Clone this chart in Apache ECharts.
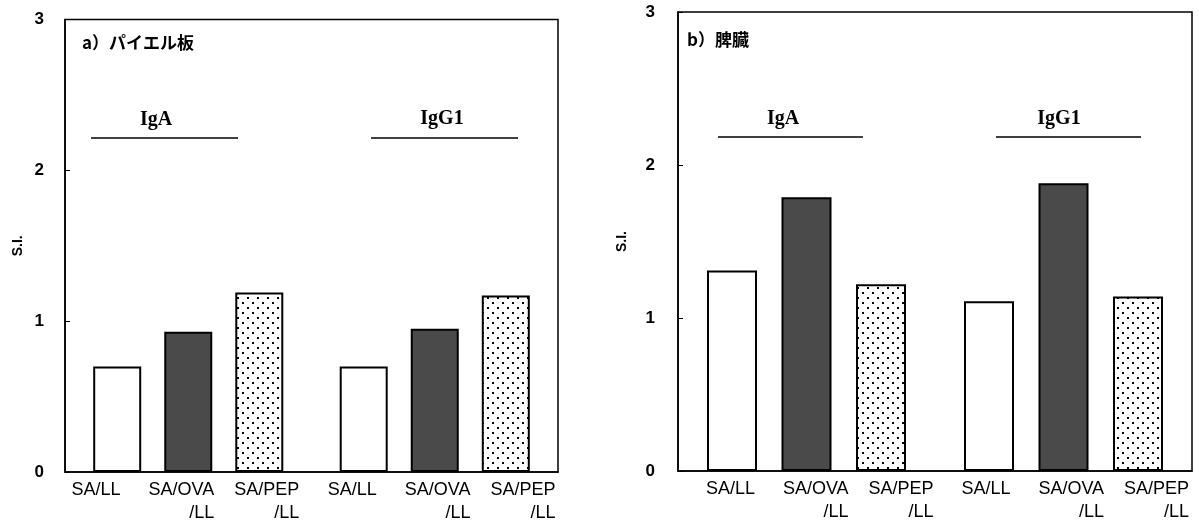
<!DOCTYPE html>
<html>
<head>
<meta charset="utf-8">
<script src="https://cdn.jsdelivr.net/npm/echarts@6/dist/echarts.min.js"></script>
<style>
  html, body { margin: 0; padding: 0; background: #fff; }
  #chart { width: 1199px; height: 523px; }
</style>
</head>
<body>
<div id="chart"></div>
<script>
// Groups on each panel and the treatment labels printed under the bars
const groups = ['IgA', 'IgG1'];
const treatmentLabels = ['SA/LL', 'SA/OVA\n/LL', 'SA/PEP\n/LL', 'SA/LL', 'SA/OVA\n/LL', 'SA/PEP\n/LL'];
const seriesNames = ['SA/LL', 'SA/OVA/LL', 'SA/PEP/LL'];

// Stimulation index (S.I.), a) Peyer's patches
const peyerSaLL = [0.70, 0.70];
const peyerSaOvaLL = [0.93, 0.95];
const peyerSaPepLL = [1.19, 1.17];

// Stimulation index (S.I.), b) spleen
const spleenSaLL = [1.31, 1.11];
const spleenSaOvaLL = [1.79, 1.88];
const spleenSaPepLL = [1.22, 1.14];

// Y axis range
const yMin = 0, yMax = 3, yStep = 1;

// Dotted fill used for the SA/PEP/LL bars
function dotPattern() {
  const c = document.createElement('canvas');
  c.width = 10; c.height = 10;
  const g = c.getContext('2d');
  g.fillStyle = '#fff';
  g.fillRect(0, 0, 10, 10);
  g.fillStyle = '#000';
  g.fillRect(2, 2, 2, 2);
  g.fillRect(7, 7, 2, 2);
  return c;
}

const fills = [
  '#ffffff',
  '#4a4a4a',
  { image: dotPattern(), repeat: 'repeat' }
];

function barSeries(values, i, axisIndex, barGap) {
  return {
    type: 'bar',
    name: seriesNames[i],
    xAxisIndex: axisIndex,
    yAxisIndex: axisIndex,
    data: values,
    barWidth: axisIndex === 0 ? 48 : 50,
    barGap: barGap,
    itemStyle: { color: fills[i], borderColor: '#000', borderWidth: 2 }
  };
}

const labelFont = '"Liberation Sans", Arial, sans-serif';

function treatmentAxis(gridIndex) {
  return {
    gridIndex: gridIndex,
    type: 'category',
    data: treatmentLabels,
    axisLine: { show: false },
    axisTick: { show: false },
    axisLabel: {
      interval: 0,
      margin: 7,
      color: '#000',
      formatter: function (v) {
        const lines = v.split('\n');
        return lines.map(function (s, k) { return (k === 0 ? '{a|' : '{b|') + s + '}'; }).join('\n');
      },
      rich: {
        a: { fontFamily: labelFont, fontSize: 18, lineHeight: 23, color: '#000' },
        b: { fontFamily: labelFont, fontSize: 18, lineHeight: 23, color: '#000', align: 'right' }
      }
    }
  };
}

function groupAxis(gridIndex) {
  return {
    gridIndex: gridIndex,
    type: 'category',
    data: groups,
    axisLine: { show: true, lineStyle: { color: '#000', width: 1.5 } },
    axisTick: { show: false },
    axisLabel: { show: false }
  };
}

function valueAxis(gridIndex, nameGap, labelMargin) {
  return {
    gridIndex: gridIndex,
    type: 'value',
    min: yMin, max: yMax, interval: yStep,
    name: 'S.I.',
    nameLocation: 'middle',
    nameRotate: 90,
    nameGap: nameGap,
    nameTextStyle: { fontFamily: labelFont, fontSize: 14, fontWeight: 'bold', color: '#000' },
    axisLine: { show: true, lineStyle: { color: '#000', width: 1.5 } },
    axisTick: { show: true, inside: true, length: 5, lineStyle: { color: '#000', width: 1 } },
    splitLine: { show: false },
    axisLabel: { margin: labelMargin, fontFamily: labelFont, fontSize: 17, fontWeight: 'bold', color: '#000' }
  };
}

const serifBold = 'bold 20px "Liberation Serif", "Times New Roman", serif';
const cjkBold = 'bold 17px "Noto Sans CJK JP", sans-serif';

function groupTitle(text, x, y) {
  return { type: 'text', x: x, y: y, style: { text: text, font: serifBold, fill: '#000', align: 'center', verticalAlign: 'middle' } };
}
function groupRule(x1, x2, y) {
  return { type: 'line', shape: { x1: x1, y1: y, x2: x2, y2: y }, style: { stroke: '#000', lineWidth: 1.5 } };
}

const chart = echarts.init(document.getElementById('chart'), null, { renderer: 'canvas' });

chart.setOption({
  animation: false,
  backgroundColor: '#fff',
  grid: [
    { left: 65, top: 19.5, width: 493, height: 452.5, show: true, borderColor: '#000', borderWidth: 1.5, backgroundColor: 'transparent' },
    { left: 678, top: 12, width: 514, height: 459, show: true, borderColor: '#000', borderWidth: 1.5, backgroundColor: 'transparent' },
    { left: 53.3, top: 19.5, width: 512.4, height: 452.5 },
    { left: 688, top: 12, width: 517.2, height: 459 }
  ],
  xAxis: [groupAxis(0), groupAxis(1), treatmentAxis(2), treatmentAxis(3)],
  yAxis: [
    valueAxis(0, 40, 21),
    valueAxis(1, 49, 23),
    { gridIndex: 2, type: 'value', show: false },
    { gridIndex: 3, type: 'value', show: false }
  ],
  series: [
    barSeries(peyerSaLL, 0, 0, '48%'),
    barSeries(peyerSaOvaLL, 1, 0, '48%'),
    barSeries(peyerSaPepLL, 2, 0, '48%'),
    barSeries(spleenSaLL, 0, 1, '49%'),
    barSeries(spleenSaOvaLL, 1, 1, '49%'),
    barSeries(spleenSaPepLL, 2, 1, '49%')
  ],
  graphic: [
    { type: 'text', left: 82, top: 34, style: { text: 'a）パイエル板', font: cjkBold, fill: '#000' } },
    { type: 'text', left: 687, top: 31, style: { text: 'b）脾臓', font: cjkBold, fill: '#000' } },
    groupTitle('IgA', 156, 120),
    groupRule(91, 238, 138),
    groupTitle('IgG1', 442, 119),
    groupRule(371, 518, 138),
    groupTitle('IgA', 783, 119),
    groupRule(718, 863, 137),
    groupTitle('IgG1', 1059, 119),
    groupRule(996, 1141, 137)
  ]
});
</script>
</body>
</html>
